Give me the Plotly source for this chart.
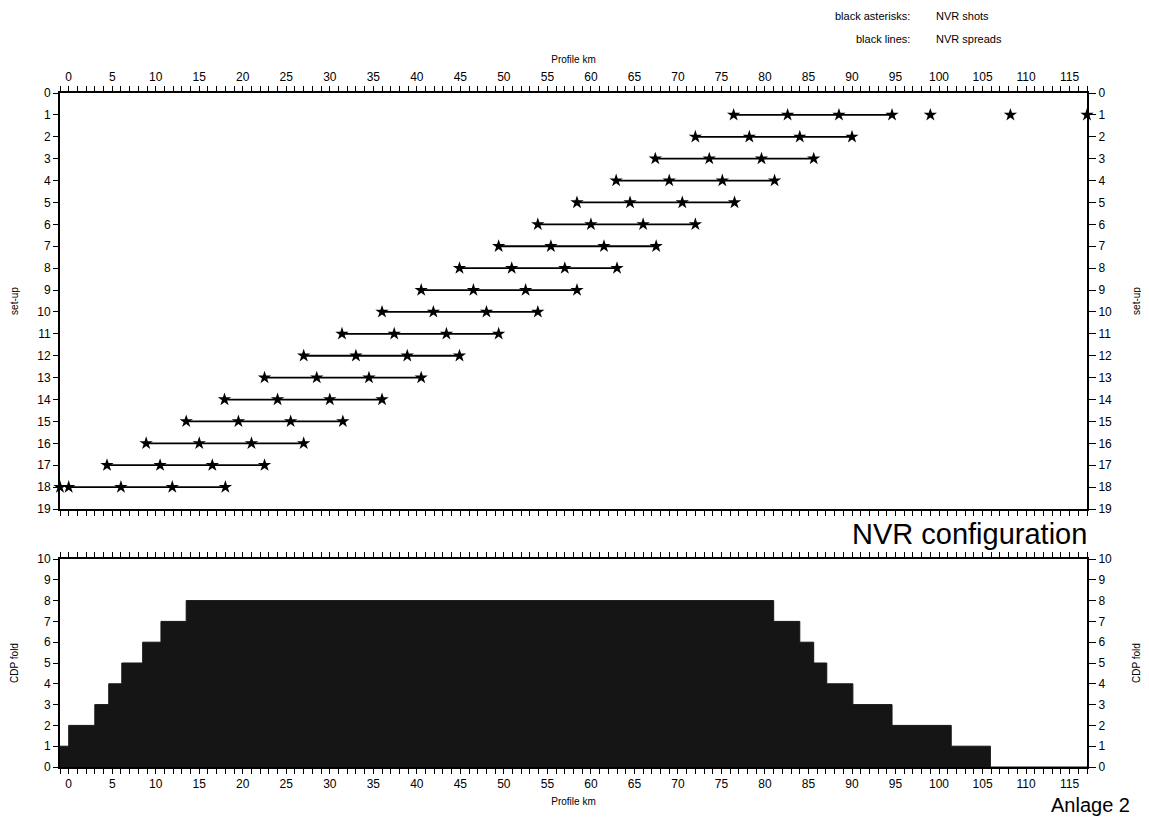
import plotly.graph_objects as go

# ---------------- data ----------------
setups = list(range(1, 19))
# shot positions (km) for each set-up (4 shots, spread between first and last)
shots = [
    [76.4, 82.6, 88.5, 94.6],
    [72.0, 78.2, 84.0, 90.0],
    [67.4, 73.6, 79.6, 85.6],
    [62.9, 69.0, 75.1, 81.1],
    [58.4, 64.5, 70.5, 76.5],
    [53.9, 60.0, 66.0, 72.0],
    [49.4, 55.4, 61.5, 67.5],
    [44.9, 50.9, 57.0, 63.0],
    [40.5, 46.5, 52.5, 58.4],
    [36.0, 41.9, 48.0, 53.9],
    [31.4, 37.4, 43.4, 49.4],
    [27.0, 33.0, 38.9, 44.9],
    [22.5, 28.5, 34.5, 40.5],
    [17.9, 24.0, 30.0, 36.0],
    [13.5, 19.5, 25.5, 31.5],
    [8.9, 15.0, 21.0, 27.0],
    [4.4, 10.5, 16.5, 22.5],
    [0.0, 6.0, 11.9, 18.0],
]
# additional isolated shots
extra_setup = [1, 1, 1, 18]
extra_km = [99.0, 108.2, 117.0, -1.0]

# CDP fold step function: start km of each step and fold value
fold_x = [-1.0, 0.0, 3.0, 4.6, 6.1, 8.5, 10.6, 13.5, 81.0, 84.0, 85.6, 87.1, 90.1, 94.6, 101.4, 105.9, 117.0]
fold_y = [1, 2, 3, 4, 5, 6, 7, 8, 7, 6, 5, 4, 3, 2, 1, 0, 0]

x_ticks = list(range(0, 120, 5))
setup_ticks = list(range(0, 20))
fold_ticks = list(range(0, 11))

# ---------------- figure ----------------
FONT = "Liberation Sans, Arial, sans-serif"
OFF = 8          # page body margin
W, H = 1149 - OFF, 823 - OFF


def px(x):
    return (x - OFF) / W


def py(y):
    return 1 - (y - OFF) / H


fig = go.Figure()

for s, xs in zip(setups, shots):
    fig.add_trace(go.Scatter(
        x=xs, y=[s] * len(xs), mode="lines+markers",
        line=dict(color="black", width=1.8),
        marker=dict(symbol="star", size=10, color="black"),
        xaxis="x", yaxis="y", showlegend=False, hoverinfo="skip"))

fig.add_trace(go.Scatter(
    x=extra_km, y=extra_setup, mode="markers",
    marker=dict(symbol="star", size=10, color="black"),
    xaxis="x", yaxis="y", showlegend=False, cliponaxis=False))

# dummy for right-hand set-up axis
fig.add_trace(go.Scatter(x=[None], y=[None], xaxis="x", yaxis="y3",
                         showlegend=False))

fig.add_trace(go.Scatter(
    x=fold_x, y=fold_y, mode="lines", line_shape="hv",
    line=dict(color="#151515", width=1), fill="tozeroy",
    fillcolor="#151515", xaxis="x2", yaxis="y2", showlegend=False))

fig.add_trace(go.Scatter(x=[None], y=[None], xaxis="x2", yaxis="y4",
                         showlegend=False))

xdom = [px(60), px(1087)]
top_dom = [py(509), py(93)]
bot_dom = [py(767), py(559)]

tickfont = dict(family=FONT, size=12, color="black")
titlefont = dict(family=FONT, size=10, color="black")

common_x = dict(
    range=[-1, 117], tickvals=x_ticks, showline=True, linecolor="black",
    linewidth=2, ticks="outside", ticklen=5, tickwidth=1, tickcolor="black",
    mirror="allticks", showgrid=False, zeroline=False, tickfont=tickfont,
    automargin=False,
    minor=dict(dtick=1, ticks="outside", ticklen=3, tickcolor="black", tickwidth=1),
)
common_y = dict(showline=True, linecolor="black", linewidth=2, ticks="outside",
                tickcolor="black", showgrid=False, zeroline=False,
                tickfont=tickfont, automargin=False)

fig.update_layout(
    width=W, height=H,
    margin=dict(l=0, r=0, t=0, b=0),
    paper_bgcolor="white", plot_bgcolor="white",
    font=dict(family=FONT, color="black"),
    xaxis=dict(common_x, domain=xdom, anchor="y", side="top",
               title=dict(text="Profile km", font=titlefont, standoff=5)),
    yaxis=dict(common_y, domain=top_dom, anchor="x", range=[19, 0],
               tickvals=setup_ticks, ticklen=5,
               title=dict(text="set-up", font=titlefont, standoff=17)),
    yaxis3=dict(common_y, overlaying="y", side="right", anchor="x",
                range=[19, 0], tickvals=setup_ticks, ticklen=7,
                title=dict(text="set-up", font=titlefont, standoff=22)),
    xaxis2=dict(common_x, domain=xdom, anchor="y2", side="bottom",
                title=dict(text="Profile km", font=titlefont, standoff=8)),
    yaxis2=dict(common_y, domain=bot_dom, anchor="x2", range=[0, 10],
                tickvals=fold_ticks, ticklen=5,
                title=dict(text="CDP fold", font=titlefont, standoff=17)),
    yaxis4=dict(common_y, overlaying="y2", side="right", anchor="x2",
                range=[0, 10], tickvals=fold_ticks, ticklen=7,
                title=dict(text="CDP fold", font=titlefont, standoff=22)),
)

ann = [
    dict(text="black asterisks:", x=912, y=16, xanchor="right"),
    dict(text="NVR shots", x=934, y=16, xanchor="left"),
    dict(text="black lines:", x=912, y=39, xanchor="right"),
    dict(text="NVR spreads", x=934, y=39, xanchor="left"),
]
for a in ann:
    fig.add_annotation(text=a["text"], x=px(a["x"]), y=py(a["y"]),
                       xref="paper", yref="paper", xanchor=a["xanchor"],
                       yanchor="middle", showarrow=False,
                       font=dict(family=FONT, size=11, color="black"))

fig.add_annotation(text="NVR configuration", x=px(1089), y=py(534),
                   xref="paper", yref="paper", xanchor="right", yanchor="middle",
                   showarrow=False, font=dict(family=FONT, size=29, color="black"))
fig.add_annotation(text="Anlage 2", x=px(1132), y=py(805),
                   xref="paper", yref="paper", xanchor="right", yanchor="middle",
                   showarrow=False, font=dict(family=FONT, size=20, color="black"))

fig.write_html("out.html")
